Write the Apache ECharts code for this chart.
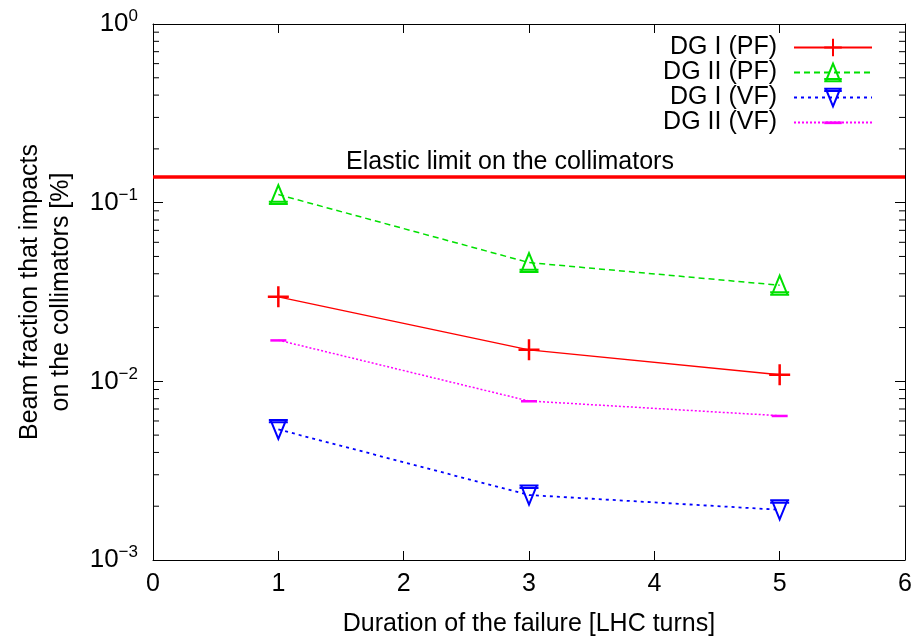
<!DOCTYPE html>
<html>
<head>
<meta charset="utf-8">
<script src="https://cdn.jsdelivr.net/npm/echarts@6/dist/echarts.min.js"></script>
<style>
  html, body { margin: 0; padding: 0; background: #fff; }
  #chart { width: 920px; height: 642px; }
</style>
</head>
<body>
<div id="chart"></div>
<script>
// Failure duration in LHC turns
const turns = [1, 3, 5];

// Beam fraction that impacts on the collimators [%]
const dg1PF = [0.0297, 0.0150, 0.0109];
const dg2PF = [0.111, 0.0462, 0.0345];
const dg1VF = [0.00538, 0.00231, 0.00191];
const dg2VF = [0.0170, 0.00776, 0.00642];

// Elastic limit on the collimators
const elasticLimit = 0.143;

// Axis ranges and tick labels
const xTicks = [0, 1, 2, 3, 4, 5, 6];
const yDecades = [0.001, 0.01, 0.1, 1];
const yMinor = [];
for (let d = 0; d < yDecades.length - 1; d++) {
  for (let m = 2; m <= 9; m++) yMinor.push(+(yDecades[d] * m).toPrecision(3));
}

const FONT = '"Liberation Sans", Arial, Helvetica, sans-serif';

function pairs(ys) { return turns.map((t, i) => [t, ys[i]]); }

// point symbols: cross, up / down triangles with a cap bar, short dash
const plusPath = 'path://M0,10L20,10M10,0L10,20';
const triUpPath = 'path://M10,1L19,17L1,17Z M-1,17L21,17 M-1,15L21,15';
const triDownPath = 'path://M1,1L19,1L10,17Z M-1,1L21,1 M-1,3L21,3';
const dashPath = 'path://M0,0M16,16M0,7L16,7L16,9.5L0,9.5Z';

const chart = echarts.init(document.getElementById('chart'), null, { renderer: 'canvas' });

const supLabel = {
  formatter: function (v) {
    const e = Math.round(Math.log10(v));
    return '{b|10}{s|' + (e === 0 ? '0' : '\u2212' + (-e)) + '}';
  },
  rich: {
    b: { fontFamily: FONT, fontSize: 26, color: '#000' },
    s: { fontFamily: FONT, fontSize: 17, color: '#000', padding: [0, 0, 15, 0] }
  }
};

chart.setOption({
  animation: false,
  backgroundColor: '#fff',
  grid: { left: 153, right: 15, top: 24, bottom: 72, containLabel: false },
  legend: {
    orient: 'vertical',
    right: 42,
    top: 30,
    align: 'right',
    itemWidth: 78,
    itemHeight: 22,
    itemGap: 0,
    selectedMode: false,
    textStyle: { fontFamily: FONT, fontSize: 25, color: '#000', lineHeight: 22, padding: [0, 12, 0, 0] },
    data: ['DG I (PF)', 'DG II (PF)', 'DG I (VF)', 'DG II (VF)']
  },
  xAxis: [{
    type: 'value', min: 0, max: 6, interval: 1, position: 'bottom',
    name: 'Duration of the failure [LHC turns]',
    nameLocation: 'middle', nameGap: 52,
    nameTextStyle: { fontFamily: FONT, fontSize: 25, color: '#000' },
    axisLine: { show: true, onZero: false, lineStyle: { color: '#000', width: 1 } },
    axisTick: { show: true, inside: true, length: 9, lineStyle: { color: '#000' } },
    axisLabel: { fontFamily: FONT, fontSize: 25, color: '#000', margin: 12 },
    splitLine: { show: false }
  }, {
    type: 'value', min: 0, max: 6, interval: 1, position: 'top',
    axisLine: { show: true, onZero: false, lineStyle: { color: '#000', width: 1 } },
    axisTick: { show: true, inside: true, length: 9, lineStyle: { color: '#000' } },
    axisLabel: { show: false },
    splitLine: { show: false }
  }],
  yAxis: [{
    type: 'log', logBase: 10, min: 0.001, max: 1, position: 'left',
    name: 'Beam fraction that impacts\non the collimators [%]',
    nameLocation: 'middle', nameGap: 76,
    nameTextStyle: { fontFamily: FONT, fontSize: 25, color: '#000', lineHeight: 31 },
    axisLine: { show: true, onZero: false, lineStyle: { color: '#000', width: 1 } },
    axisTick: { show: true, inside: true, length: 10, lineStyle: { color: '#000' } },
    axisLabel: Object.assign({ margin: 15 }, supLabel),
    splitLine: { show: false }
  }, {
    type: 'log', logBase: 10, min: 0.001, max: 1, position: 'right',
    axisLine: { show: true, onZero: false, lineStyle: { color: '#000', width: 1 } },
    axisTick: { show: true, inside: true, length: 10, lineStyle: { color: '#000' } },
    axisLabel: { show: false },
    splitLine: { show: false }
  }],
  series: [
    {
      // minor log ticks on both vertical borders
      type: 'custom',
      coordinateSystem: 'cartesian2d',
      silent: true,
      clip: false,
      data: yMinor.map(v => [0, v]),
      renderItem: function (params, api) {
        const v = api.value(1);
        const l = api.coord([0, v]);
        const r = api.coord([6, v]);
        const style = { stroke: '#000', lineWidth: 1 };
        return {
          type: 'group',
          children: [
            { type: 'line', shape: { x1: l[0], y1: l[1], x2: l[0] + 6, y2: l[1] }, style: style },
            { type: 'line', shape: { x1: r[0], y1: r[1], x2: r[0] - 6, y2: r[1] }, style: style }
          ]
        };
      }
    },
    {
      name: 'DG I (PF)',
      type: 'line',
      data: pairs(dg1PF),
      symbol: plusPath,
      symbolSize: 21,
      color: '#ff0000',
      lineStyle: { color: '#ff0000', width: 1.5, type: 'solid' },
      itemStyle: { color: '#ff0000', borderColor: '#ff0000', borderWidth: 2.5 },
      markLine: {
        silent: true,
        symbol: ['none', 'none'],
        lineStyle: { color: '#ff0000', width: 3.5, type: 'solid' },
        label: {
          show: true,
          position: 'insideMiddleTop',
          distance: 2,
          formatter: 'Elastic limit on the collimators',
          fontFamily: FONT, fontSize: 25, color: '#000',
          padding: [0, 38, 0, 0]
        },
        data: [{ yAxis: elasticLimit }]
      }
    },
    {
      name: 'DG II (PF)',
      type: 'line',
      data: pairs(dg2PF),
      symbol: triUpPath,
      symbolSize: 19,
      color: '#00e000',
      lineStyle: { color: '#00e000', width: 1.5, type: [6, 4] },
      itemStyle: { color: 'rgba(255,255,255,0)', borderColor: '#00e000', borderWidth: 2 }
    },
    {
      name: 'DG I (VF)',
      type: 'line',
      data: pairs(dg1VF),
      symbol: triDownPath,
      symbolSize: 19,
      color: '#0000ff',
      lineStyle: { color: '#0000ff', width: 1.8, type: [3, 4] },
      itemStyle: { color: 'rgba(255,255,255,0)', borderColor: '#0000ff', borderWidth: 2 }
    },
    {
      name: 'DG II (VF)',
      type: 'line',
      data: pairs(dg2VF),
      symbol: dashPath,
      symbolSize: 16,
      color: '#ff00ff',
      lineStyle: { color: '#ff00ff', width: 1.5, type: [2, 2] },
      itemStyle: { color: '#ff00ff', borderWidth: 0 }
    }
  ]
});
</script>
</body>
</html>
